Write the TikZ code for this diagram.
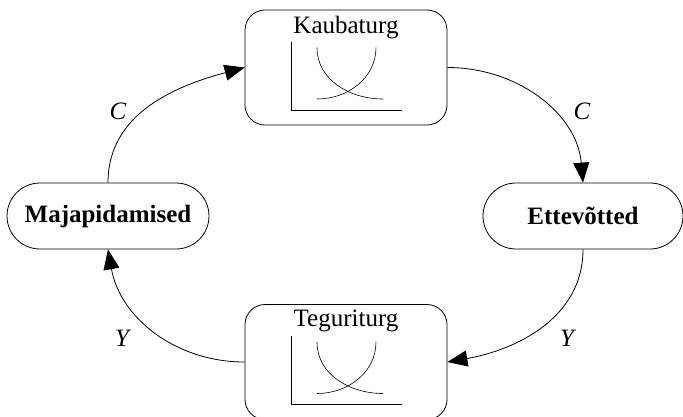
\documentclass[tikz,border=0pt]{standalone}
\usepackage{fontspec}
\setmainfont{Liberation Serif}
\usepackage{tikz}
\usetikzlibrary{arrows.meta,calc}

\tikzset{
    turg/.style={draw,rounded corners=20pt,minimum width=202pt,minimum height=115pt,line width=0.8pt},
    sektor/.style={draw,rounded corners=33pt,minimum width=202pt,minimum height=66pt,line width=0.8pt,font=\fontsize{25}{30}\selectfont\bfseries},
    voog/.style={line width=0.8pt,-{Triangle[length=20pt,width=16pt]}},
    silt/.style={font=\fontsize{25}{30}\selectfont\itshape}
}

\begin{document}
\begin{tikzpicture}[x=1pt,y=1pt]
    \clip (0,0) rectangle (683,-416);
    % turud
    \node[turg] (kaub) at (346,-67.5) {};
    \node[turg] (teg) at (346,-362) {};
    \node[anchor=north,inner sep=0pt,font=\fontsize{25}{30}\selectfont] (kaubnimi) at ([yshift=-6pt]kaub.north) {Kaubaturg};
    \node[anchor=north,inner sep=0pt,font=\fontsize{25}{30}\selectfont] (tegnimi) at ([yshift=-6pt]teg.north) {Teguriturg};
    % pakkumine ja nõudlus
    \foreach \m in {kaub,teg} {
        \draw[line width=0.6pt] ($(\m.center)+(-55,26)$) -- ($(\m.center)+(-55,-42.5)$) -- ($(\m.center)+(56,-42.5)$);
        \draw[line width=0.6pt] ($(\m.center)+(-29,20)$) to[out=-90,in=180] ($(\m.center)+(37,-31.5)$);
        \draw[line width=0.6pt] ($(\m.center)+(30,20)$) to[out=-90,in=0] ($(\m.center)+(-29,-31.5)$);
    }
    % sektorid
    \node[sektor] (maja) at (108,-216) {Majapidamised};
    \node[sektor,minimum width=200pt] (ettev) at (583,-216) {Ettevõtted};
    % vood
    \draw[voog] (maja.north) to[out=90,in=195] (kaub.west);
    \draw[voog] (kaub.east) to[out=0,in=95] (ettev.north);
    \draw[voog] (ettev.south) to[out=-90,in=10] (teg.east);
    \draw[voog] (teg.west) to[out=180,in=-80] (maja.south);
    \node[silt] (c1) at (118,-111) {C};
    \node[silt] (c2) at (582,-111) {C};
    \node[silt] (y1) at (122,-338) {Y};
    \node[silt] (y2) at (567,-338) {Y};
\end{tikzpicture}
\end{document}
